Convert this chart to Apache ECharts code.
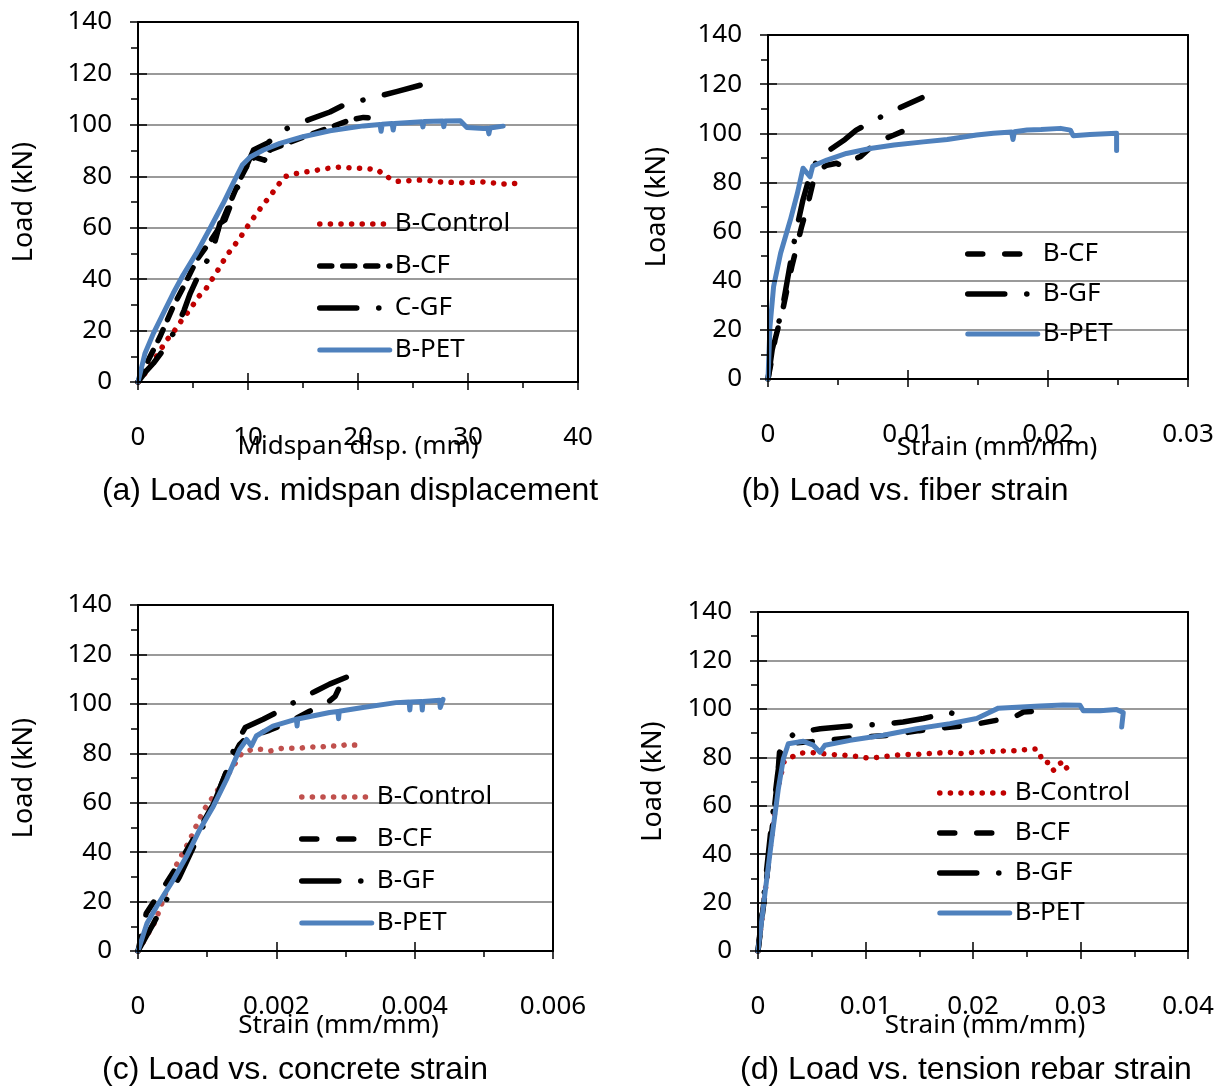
<!DOCTYPE html>
<html><head><meta charset="utf-8">
<script src="https://cdn.jsdelivr.net/npm/echarts@6/dist/echarts.min.js"></script>
<style>html,body{margin:0;padding:0;background:#fff}#c{width:1222px;height:1088px}</style>
</head><body><div id="c"></div>
<script>
// ---------- DATA ----------
// (a) Load vs. midspan displacement  [disp (mm), load (kN)]
const a_control = [[0,0],[1.1,5.9],[1.85,11.1],[2.6,16.3],[3.15,18.9],[4.1,24.8],[4.7,28],[5.5,33.2],[6.2,36.4],[7.15,42.7],[8.05,49.1],[9.25,55.9],[10.2,62.1],[11.25,68.2],[12.3,74],[13.3,79.8],[14.4,81.1],[15.9,82.1],[17.1,83],[18.35,83.6],[19.5,83.2],[20.7,83.1],[21.85,82.4],[22.3,80.5],[23.5,78],[24.7,78.3],[25.9,78.6],[27.5,77.8],[29.5,77.5],[31.3,77.8],[33.2,77],[35.1,77.4]];
const a_cf = [[0,0],[0.35,3.5],[1,9],[2,17.6],[3.2,29.3],[4.3,38.4],[5.35,47.5],[6.55,54.6],[7.45,60.4],[8.35,69.5],[9.25,78.6],[9.9,84],[10.6,87.5],[11.5,86.3],[12,90.2],[13.5,92.8],[15.6,96.1],[17.45,99],[19.3,101.9],[20.5,102.9],[21.7,102.5]];
const a_gf = [[0,0],[0.7,4],[1.4,7.3],[2.4,13],[3.5,21],[4.2,28],[4.75,34.5],[5.65,42.9],[6.7,50],[7.45,61.7],[7.9,63],[8.95,74.7],[9.7,82.4],[10.5,90.2],[11.8,93],[13.2,98],[15,101.2],[17.45,105],[18.7,107.7],[20.5,109.7],[23.5,112.9],[26,115.8]];
const a_pet = [[0,0],[0.64,11.2],[1.4,18.9],[2.3,26.7],[3.2,34.5],[4.1,41.6],[5.3,50],[6.55,59.8],[7.75,69.5],[8.65,77.3],[9.5,84.5],[10.2,87.5],[11.4,90.2],[12.9,92.8],[15,95.4],[17.45,97.7],[20.5,99.6],[22.0,100.1],[22.1,97.5],[22.2,100.2],[23.1,100.5],[23.2,98],[23.3,100.5],[25.8,101.2],[25.9,99.2],[26,101.3],[27.7,101.5],[27.8,99.3],[27.9,101.5],[29.3,101.6],[29.9,99],[31.4,98.6],[31.8,98.7],[31.9,96.5],[32,98.8],[33.2,99.5]];
// (b) Load vs. fiber strain  [strain, load]
const b_cf = [[0,0],[0.0002,6],[0.0005,15.9],[0.0011,29.4],[0.0017,45.7],[0.0024,62],[0.0028,70],[0.0032,79.6],[0.0036,85],[0.0042,87],[0.0049,87.8],[0.0053,86.7],[0.0057,88.5],[0.0066,90.5],[0.0078,96.6],[0.009,99.3],[0.0104,102.7]];
const b_gf = [[0,0],[0.0003,12],[0.0007,21.3],[0.0011,31],[0.0015,44],[0.002,60],[0.0025,73],[0.0029,81],[0.0033,86],[0.0035,89.7],[0.0044,93.2],[0.0055,97.5],[0.0063,101.3],[0.0085,108],[0.011,114.5]];
const b_pet = [[0,0],[0.00014,21.3],[0.0004,37.6],[0.0009,51.2],[0.0016,64.8],[0.0021,75.6],[0.0025,85.8],[0.003,82.3],[0.0032,86.7],[0.0042,89.1],[0.0056,91.8],[0.0073,93.8],[0.009,95.2],[0.0111,96.5],[0.0128,97.5],[0.0149,99.3],[0.0161,100],[0.0174,100.5],[0.0175,97.5],[0.0176,100.6],[0.0185,101.3],[0.0195,101.5],[0.0209,102],[0.0216,101.3],[0.0218,99],[0.023,99.5],[0.0249,100],[0.0249,93]];
// (c) Load vs. concrete strain  [strain, load]
const c_control = [[0,0],[0.00025,12],[0.00053,33.5],[0.00075,45],[0.00094,56.6],[0.0012,67],[0.0015,80],[0.00167,81.8],[0.00179,81.6],[0.00191,80.9],[0.00208,82],[0.00234,82],[0.00248,82.7],[0.00263,82.3],[0.00275,83.2],[0.00289,82.7],[0.00301,83.5],[0.00316,83.3]];
const c_cf = [[0,0],[0.00012,15.3],[0.00041,27.5],[0.00065,38.2],[0.0009,50],[0.0011,60],[0.00133,76.2],[0.00147,83.6],[0.00157,86.3],[0.0019,89.3],[0.00214,92],[0.00248,97],[0.00272,100],[0.00285,103],[0.0029,106]];
const c_gf = [[0,0],[0.0001,5],[0.00022,11],[0.00037,18.7],[0.0006,30],[0.0009,48],[0.0011,60],[0.0013,74],[0.0014,82.9],[0.00155,90.4],[0.00181,93.8],[0.00205,97.2],[0.00229,101.2],[0.00258,105.3],[0.00277,108],[0.00306,111.3],[0.0033,113.4]];
const c_pet = [[0,0],[0.00013,11.2],[0.00027,18],[0.00051,28.8],[0.0007,38.2],[0.00089,49],[0.00109,58.6],[0.00128,69.4],[0.00147,81.6],[0.00157,85.6],[0.00164,83],[0.00171,87],[0.00195,91],[0.00229,93.8],[0.0023,91],[0.00231,93.9],[0.00277,96.5],[0.00289,96.9],[0.0029,94],[0.00291,97],[0.00325,98.5],[0.00373,100.5],[0.00392,100.8],[0.00393,97.5],[0.00394,100.8],[0.0041,101],[0.00411,97.5],[0.00412,101],[0.00422,101.2],[0.00436,101.5],[0.00437,98.5],[0.00441,101.8]];
// (d) Load vs. tension rebar strain  [strain, load]
const d_control = [[0,0],[0.0006,22],[0.0012,45],[0.0018,66],[0.0024,78],[0.0029,79.6],[0.0039,81.7],[0.0048,82],[0.0059,81.5],[0.007,81.1],[0.0081,80.8],[0.0092,80.4],[0.0103,79.6],[0.0114,80.1],[0.0124,80.7],[0.0135,81.1],[0.0146,81.1],[0.0157,81.5],[0.0168,81.8],[0.0179,82],[0.019,81.5],[0.02,82],[0.0211,82.3],[0.0222,82.4],[0.023,82.7],[0.0239,82.7],[0.0248,83.1],[0.0258,83.4],[0.0262,82.4],[0.0264,78.3],[0.0272,77.6],[0.0275,74.6],[0.0279,77],[0.0283,78],[0.0286,75.3],[0.0289,76.3]];
const d_cf = [[0,0],[0.0006,22],[0.0012,46],[0.0018,70],[0.002,82],[0.0024,85],[0.0035,86],[0.0055,86.6],[0.0086,88],[0.012,89],[0.015,91],[0.018,92.5],[0.0197,93.2],[0.0222,95.3],[0.0238,96.6],[0.0247,98.7],[0.0256,99],[0.0259,102.9],[0.0262,99]];
const d_gf = [[0,0],[0.0006,25],[0.0012,50],[0.0018,72],[0.0021,82],[0.0024,85.5],[0.0034,90],[0.0058,91.8],[0.0093,93.2],[0.0115,93.6],[0.0135,94.6],[0.0154,96],[0.0166,97.3],[0.0177,98.7],[0.0182,98]];
const d_pet = [[0,0],[0.00065,23.9],[0.00127,46],[0.00189,66.9],[0.00236,79.4],[0.00282,85.6],[0.00422,86.6],[0.00515,85],[0.00577,82.1],[0.00623,85],[0.00856,87],[0.01166,89.1],[0.01476,91.8],[0.01786,93.9],[0.02034,96],[0.02127,98],[0.02236,100.3],[0.02406,100.7],[0.02623,101.2],[0.0284,101.6],[0.02995,101.5],[0.03026,99.2],[0.03181,99.2],[0.03336,99.7],[0.03398,98.5],[0.03383,92.5]];

// axis ranges / tick labels
const yRange = {min: 0, max: 140, interval: 20};
const xRanges = [{max: 40, interval: 10}, {max: 0.03, interval: 0.01}, {max: 0.006, interval: 0.002}, {max: 0.04, interval: 0.01}];
const xNames = ['Midspan disp. (mm)', 'Strain (mm/mm)', 'Strain (mm/mm)', 'Strain (mm/mm)'];
const yName = 'Load (kN)';
const captions = ['(a) Load vs. midspan displacement', '(b) Load vs. fiber strain', '(c) Load vs. concrete strain', '(d) Load vs. tension rebar strain'];
const seriesSets = [
  [['B-Control', a_control, 'ctrl'], ['B-CF', a_cf, 'cfA'], ['C-GF', a_gf, 'gf'], ['B-PET', a_pet, 'pet']],
  [['B-CF', b_cf, 'cf'], ['B-GF', b_gf, 'gf'], ['B-PET', b_pet, 'pet']],
  [['B-Control', c_control, 'ctrlC'], ['B-CF', c_cf, 'cf'], ['B-GF', c_gf, 'gf'], ['B-PET', c_pet, 'pet']],
  [['B-Control', d_control, 'ctrl'], ['B-CF', d_cf, 'cf'], ['B-GF', d_gf, 'gf'], ['B-PET', d_pet, 'pet']]
];

// ---------- LAYOUT / STYLE ----------
const layout = [
  {grid: {left: 138, top: 22, width: 440, height: 360}, yGap: 100, xGap: 52, xPad: 0, leg: {left: 317, top: 210, gap: 14}, cap: [350, 491]},
  {grid: {left: 768, top: 35, width: 420, height: 344}, yGap: 97, xGap: 56, xPad: 38, leg: {left: 965, top: 240, gap: 12}, cap: [905, 491]},
  {grid: {left: 138, top: 605, width: 415, height: 346}, yGap: 100, xGap: 62, xPad: -14, leg: {left: 299, top: 783, gap: 14}, cap: [295, 1070]},
  {grid: {left: 758, top: 612, width: 430, height: 339}, yGap: 91, xGap: 62, xPad: 24, leg: {left: 937, top: 779, gap: 12}, cap: [966, 1070]}
];
const styles = {
  ctrl:  {color: '#C00000', width: 5.5, type: [0.1, 10.5], cap: 'round'},
  ctrlC: {color: '#C0504D', width: 5.5, type: [0.1, 10.5], cap: 'round'},
  cfA:   {color: '#000', width: 5.5, type: [12, 11], cap: 'round'},
  cf:    {color: '#000', width: 5.5, type: [15, 22], cap: 'round'},
  gf:    {color: '#000', width: 5.5, type: [37, 22, 0.1, 22], cap: 'round'},
  pet:   {color: '#4F81BD', width: 5, type: 'solid', cap: 'round'}
};
const FONT = 'Noto Sans';
const black = {color: '#000', width: 2};

const grids = [], xAxes = [], yAxes = [], series = [], legends = [], graphics = [];
layout.forEach((L, i) => {
  grids.push(Object.assign({show: false, containLabel: false}, L.grid));
  const xr = xRanges[i];
  const xb = {gridIndex: i, type: 'value', min: 0, max: xr.max, interval: xr.interval, splitLine: {show: false}};
  xAxes.push(Object.assign({}, xb, {
    position: 'bottom', z: 10,
    axisLine: {show: true, onZero: false, lineStyle: black},
    axisTick: {show: true, inside: true, length: 9, lineStyle: {color: '#000', width: 1.5}},
    axisLabel: {margin: 43, color: '#000', fontSize: 26, fontFamily: FONT},
    name: xNames[i], nameLocation: 'middle', nameGap: L.xGap, nameMoveOverlap: false,
    nameTextStyle: {color: '#000', fontSize: 26, fontFamily: FONT, padding: L.xPad >= 0 ? [0, 0, 0, L.xPad] : [0, -L.xPad, 0, 0]}
  }));
  xAxes.push(Object.assign({}, xb, {
    position: 'bottom', z: 10,
    axisLine: {show: false},
    axisTick: {show: true, inside: false, length: 8, lineStyle: {color: '#000', width: 1.5}},
    minorTick: {show: true, splitNumber: 2, length: 6, lineStyle: {color: '#000', width: 1.5}},
    axisLabel: {show: false}
  }));
  xAxes.push(Object.assign({}, xb, {
    position: 'top', z: 10,
    axisLine: {show: true, onZero: false, lineStyle: black},
    axisTick: {show: false}, axisLabel: {show: false}
  }));
  const yb = {gridIndex: i, type: 'value', min: yRange.min, max: yRange.max, interval: yRange.interval, splitLine: {show: false}};
  yAxes.push(Object.assign({}, yb, {
    position: 'left', z: 10,
    axisLine: {show: true, onZero: false, lineStyle: black},
    axisTick: {show: true, inside: true, length: 9, lineStyle: {color: '#000', width: 1.5}},
    axisLabel: {margin: 26, color: '#000', fontSize: 26, fontFamily: FONT},
    name: yName, nameLocation: 'middle', nameGap: L.yGap, nameMoveOverlap: false,
    nameTextStyle: {color: '#000', fontSize: 27, fontFamily: FONT}
  }));
  yAxes.push(Object.assign({}, yb, {
    position: 'left', z: 10,
    axisLine: {show: false},
    axisTick: {show: true, inside: false, length: 8, lineStyle: {color: '#000', width: 1.5}},
    minorTick: {show: true, splitNumber: 2, length: 7, lineStyle: {color: '#000', width: 1.5}},
    axisLabel: {show: false}
  }));
  yAxes.push(Object.assign({}, yb, {
    position: 'right', z: 10,
    axisLine: {show: true, onZero: false, lineStyle: black},
    axisTick: {show: false}, axisLabel: {show: false}
  }));
  yAxes.push(Object.assign({}, yb, {
    position: 'left', z: 1,
    axisLine: {show: false}, axisTick: {show: false}, axisLabel: {show: false},
    splitLine: {show: true, lineStyle: {color: '#9a9a9a', width: 2}}
  }));
  const names = [];
  seriesSets[i].forEach(([nm, data, st]) => {
    const id = 'p' + i + ':' + nm;
    const s = styles[st];
    names.push({name: id, lineStyle: {color: s.color, width: s.width, type: s.type, cap: s.cap}, itemStyle: {opacity: 0}});
    series.push({
      name: id, type: 'line', xAxisIndex: 3 * i, yAxisIndex: 4 * i,
      data: data, symbol: 'none', showSymbol: false, z: 3,
      lineStyle: {color: s.color, width: s.width, type: s.type, cap: s.cap, join: 'round'},
      itemStyle: {color: s.color}
    });
  });
  legends.push({
    show: true, orient: 'vertical', left: L.leg.left, top: L.leg.top,
    itemWidth: 70, itemHeight: 14, itemGap: L.leg.gap, padding: 0,
    data: names, selectedMode: false,
    itemStyle: {opacity: 0},
    formatter: n => n.split(':')[1],
    textStyle: {color: '#000', fontSize: 26, fontFamily: FONT, lineHeight: 28, padding: [0, 0, 0, 0]}
  });
  graphics.push({
    type: 'text', x: L.cap[0], y: L.cap[1], z: 20,
    style: {text: captions[i], fill: '#000', font: '32px "Liberation Sans"', align: 'center', verticalAlign: 'middle'}
  });
});

const chart = echarts.init(document.getElementById('c'), null, {renderer: 'canvas'});
chart.setOption({
  animation: false,
  backgroundColor: '#fff',
  grid: grids, xAxis: xAxes, yAxis: yAxes, series: series,
  legend: legends, graphic: graphics
});
</script></body></html>
